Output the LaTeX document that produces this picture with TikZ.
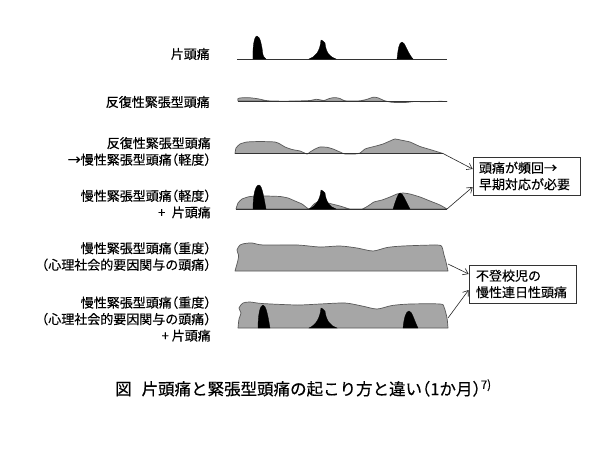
\documentclass[tikz,border=0pt]{standalone}
\usepackage{fontspec}
\newfontfamily\jp[RawFeature=+halt, FakeBold=0.35]{Noto Sans CJK JP}
\usetikzlibrary{arrows.meta}
\begin{document}
\begin{tikzpicture}[x=1pt,y=-1pt]
\tikzset{
 lab/.style={font=\jp\fontsize{13}{16.5}\selectfont, anchor=east, align=right, inner sep=0pt, text=black},
 baseln/.style={draw=black!80, line width=0.8pt},
 gshape/.style={fill=black!35, draw=black!65, line width=0.7pt, line join=round},
 bpeak/.style={fill=black, draw=black, line width=0.3pt},
 txtbox/.style={draw=black!80, line width=0.7pt, font=\jp\fontsize{13}{16.5}\selectfont, align=left, minimum height=38pt, inner ysep=2pt, text=black},
 conn/.style={draw=black!85, line width=0.6pt, -{Straight Barb[length=5pt,width=7pt]}},
}
\fill[white] (0,0) rectangle (600,450);
\useasboundingbox (0,0) rectangle (600,450);

% ---------- labels ----------
\node[lab] (l1) at (210,54) {片頭痛};
\node[lab] (l2) at (210,102) {反復性緊張型頭痛};
\node[lab] (l3) at (211,151.5) {反復性緊張型頭痛\\→慢性緊張型頭痛（軽度）};
\node[lab] (l4) at (211,204) {慢性緊張型頭痛（軽度）\\+\hspace{0.5em}片頭痛};
\node[lab] (l5) at (211,256.5) {慢性緊張型頭痛（重度）\\（心理社会的要因関与の頭痛）};
\node[lab] (l6) at (211,319) {慢性緊張型頭痛（重度）\\（心理社会的要因関与の頭痛）\\+ 片頭痛};

% ---------- row 1 ----------
\draw[baseln] (237,59) -- (447,59);
\fill[bpeak] (253,59) .. controls (252.5,48) and (254,36) .. (257,36) .. controls (260,36) and (262,46) .. (262.5,52) .. controls (263,56) and (264,58) .. (266,59) -- cycle;
\fill[bpeak] (309,59) .. controls (315,57) and (320,52) .. (321,40) -- (323,41) -- (325,43) .. controls (326,53) and (330,57) .. (336,59) -- cycle;
\fill[bpeak] (397,59) .. controls (398,50) and (399,42) .. (402,42) .. controls (405,42) and (407,52) .. (413,59) -- cycle;

% ---------- row 2 ----------
\draw[gshape] plot[smooth,tension=0.4] coordinates {(238,101) (238,98.5) (242,97.8) (250,97.8) (258,98.8) (266,100.5) (275,101.2) (295,101) (310,100.5) (316,99.3) (320,99.8) (324,100.5) (330,98.3) (335,97.6) (340,98.5) (345,100.8) (360,100.8) (368,99) (373,97.2) (378,97.8) (384,100.5) (392,102.3) (405,102.5) (415,101.5) (425,101.8) (440,101.3) (447,101.5)} -- cycle;
\draw[baseln] (238,101) -- (447,101);

% ---------- row 3 ----------
\draw[gshape] plot[smooth,tension=0.3] coordinates {(235,153.5) (236,148) (240,144) (247,142) (260,141.5) (275,142) (280,144) (285,147) (292,149.5) (300,151) (307,154) (310,152) (315,149) (320,147) (327,147.3) (333,149) (340,152) (345,154) (355,154) (360,153) (365,149) (370,147.5) (376,146) (383,144) (390,141) (395,139) (403,140.5) (410,142) (420,146.5) (430,149.5) (443,153.5)} -- cycle;
\draw[baseln] (235,153.5) -- (443,153.5);
\coordinate (r3e) at (443,153.5);

% ---------- row 4 ----------
\draw[gshape] plot[smooth,tension=0.3] coordinates {(236,209) (238,203) (242,199) (250,196.5) (265,196) (280,196.5) (288,198) (295,201) (302,204) (309,209) (314,204) (320,201) (328,203) (340,206) (350,209) (362,209) (368,206) (374,202) (382,200) (390,197) (397,194) (403,193) (410,194) (420,197) (430,201) (440,205) (447,209)} -- cycle;
\draw[baseln] (236,209) -- (447,209);
\fill[bpeak] (253,209) .. controls (253,196) and (255,185) .. (259,185) .. controls (262,185) and (264,198) .. (266,209) -- cycle;
\fill[bpeak] (309,209) .. controls (316,206) and (320,200) .. (321,190) -- (323,191) -- (325,193) .. controls (326,202) and (330,207) .. (336,209) -- cycle;
\fill[bpeak] (393,209) .. controls (396,200) and (398,193) .. (400,193) .. controls (403,193) and (405,200) .. (410,209) -- cycle;
\coordinate (r4e) at (447,209);

% ---------- row 5 ----------
\draw[gshape] plot[smooth,tension=0.45] coordinates {(235,271) (238,260) (238.5,255) (237,250) (240,245) (245,243.5) (252,243) (263,245) (297,245) (320,247) (340,246) (357,248) (373,251) (387,247.5) (403,246) (437,245) (442,247) (443.5,253) (446,262) (448,271)} -- cycle;
\coordinate (r5e) at (448,264);

% ---------- row 6 ----------
\draw[gshape] plot[smooth,tension=0.45] coordinates {(238,328) (239,319) (241,313) (239,308) (243,303) (250,302) (262,303.5) (297,305) (320,304) (345,303) (362,306) (377,309) (392,305.5) (410,304) (440,304) (444,307) (447,318) (448,328)} -- cycle;
\fill[bpeak] (258,328) .. controls (258,315) and (260,305) .. (263,305) .. controls (266,305) and (268,316) .. (270,328) -- cycle;
\fill[bpeak] (309,328) .. controls (316,325) and (320,318) .. (321,308) -- (323,309) -- (325,311) .. controls (326,320) and (330,326) .. (337,328) -- cycle;
\fill[bpeak] (403,328) .. controls (404,318) and (406,311) .. (409,311) .. controls (412,311) and (414,320) .. (418,328) -- cycle;
\coordinate (r6e) at (448,318);

% ---------- boxes ----------
\node[txtbox, inner xsep=6pt, text width=95pt] (b1) at (526.5,176) {頭痛が頻回→\\早期対応が必要};
\node[txtbox, inner xsep=7pt, text width=93pt] (b2) at (522.5,284) {不登校児の\\慢性連日性頭痛};

\draw[conn] (r3e) -- ([yshift=7pt]b1.west);
\draw[conn] (r4e) -- ([yshift=-11pt]b1.west);
\draw[conn] (r5e) -- ([yshift=10pt]b2.west);
\draw[conn] (r6e) -- ([yshift=-6pt]b2.west);

% ---------- caption ----------
\node[font=\jp\fontsize{16.5}{18}\selectfont, anchor=west, inner sep=0pt, text=black] (cap) at (115,388) {図\hspace{0.6em}片頭痛と緊張型頭痛の起こり方と違い（1か月）\textsuperscript{7)}};
\end{tikzpicture}
\end{document}
